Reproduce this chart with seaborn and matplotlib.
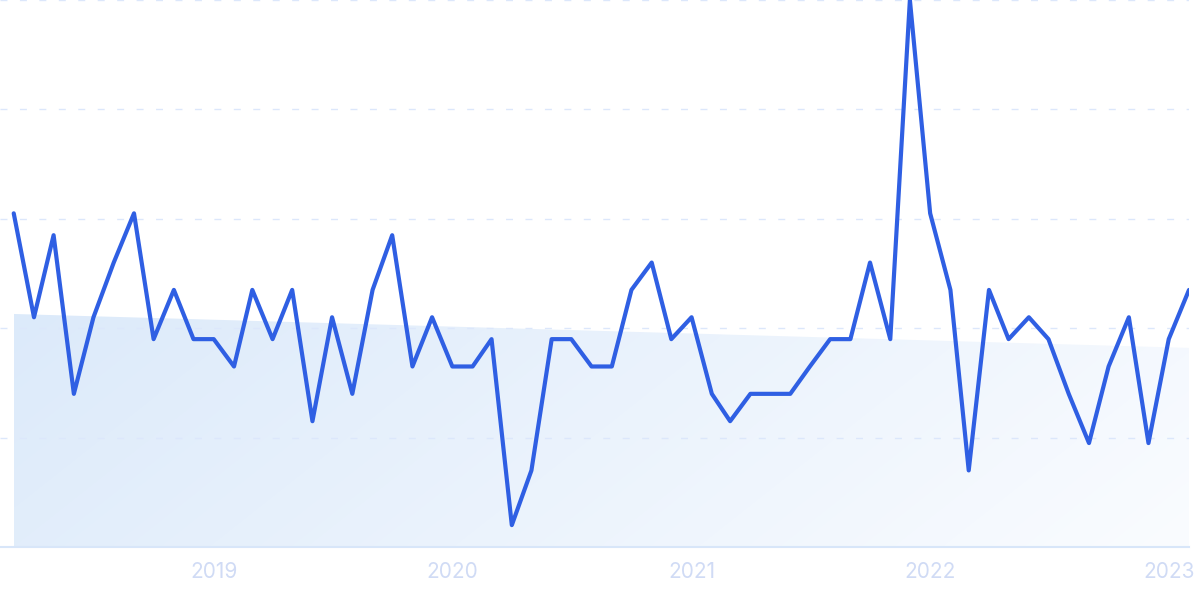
import seaborn as sns
import matplotlib.pyplot as plt
import matplotlib.dates as mdates
import pandas as pd
import numpy as np

# monthly index values, Mar 2018 - Feb 2023
values = [61, 42, 57, 28, 42, 52, 61, 38, 47, 38,
          38, 33, 47, 38, 47, 23, 42, 28, 47, 57, 33, 42,
          33, 33, 38, 4, 14, 38, 38, 33, 33, 47, 52, 38,
          42, 28, 23, 28, 28, 28, 33, 38, 38, 52, 38, 100,
          61, 47, 14, 47, 38, 42, 38, 28, 19, 33, 42, 19,
          38, 47]
start_month = '2018-03-01'
year_ticks = ['2019', '2020', '2021', '2022', '2023']
trend_ends = [42.6, 36.4]   # trend band, left and right end

dates = pd.date_range(start_month, periods=len(values), freq='MS')
df = pd.DataFrame({'date': dates, 'value': values})

sns.set_style('white')
plt.rcParams['font.family'] = ['Inter', 'DejaVu Sans']

fig = plt.figure(figsize=(12, 5.99), dpi=100)
ax = fig.add_axes([0, 1 - 547 / 599, 1189 / 1200, 547 / 599])

# gradient-filled trend band
trend = np.linspace(trend_ends[0], trend_ends[1], len(dates))
band = ax.fill_between(dates, trend, 0, color='none', lw=0)
x0, x1 = mdates.date2num(dates[0]), mdates.date2num(dates[-1])
h, w = 100, 400
xn = np.linspace(0, 1, w)[None, :]
yn = np.linspace(0, 1, h)[:, None]
t = np.clip(0.8 * xn + 0.2 * (1 - yn), 0, 1)
c0 = np.array([220, 234, 250]) / 255
c1 = np.array([250, 252, 255]) / 255
img = c0[None, None, :] * (1 - t[..., None]) + c1[None, None, :] * t[..., None]
im = ax.imshow(img, extent=[x0, x1, 0, max(trend_ends)], origin='lower',
               aspect='auto', zorder=1, interpolation='bilinear')
im.set_clip_path(band.get_paths()[0], transform=ax.transData)

sns.lineplot(data=df, x='date', y='value', ax=ax, color='#2f5fe3',
             linewidth=3.0, zorder=3)

ax.set_ylim(0, 100)
ax.set_xlim(dates[0] - pd.Timedelta(days=21), dates[-1])
ax.set_yticks([20, 40, 60, 80, 100])
ax.set_yticklabels([])
ax.yaxis.grid(True, linestyle=(0, (5, 9)), color='#dce7fb', linewidth=1)
ax.set_axisbelow(False)

ax.set_xticks(pd.to_datetime([y + '-01-01' for y in year_ticks]))
ax.set_xticklabels(year_ticks, fontsize=15, color='#d0dbf5')
ax.tick_params(axis='both', length=0)
ax.tick_params(axis='x', pad=11)
ax.set_xlabel('')
ax.set_ylabel('')

for s in ['top', 'right', 'left']:
    ax.spines[s].set_visible(False)
ax.spines['bottom'].set_color('#d8e6f9')
ax.spines['bottom'].set_linewidth(1.5)

fig.savefig('out.png', dpi=100)
